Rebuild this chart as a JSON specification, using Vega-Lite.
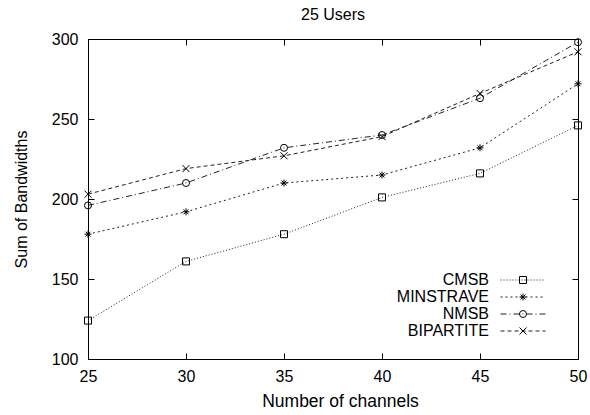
{
  "$schema": "https://vega.github.io/schema/vega-lite/v6.json",
  "width": 490,
  "height": 320,
  "padding": {"left": 88, "top": 39, "right": 12, "bottom": 56},
  "autosize": {"type": "none"},
  "background": "white",
  "title": {"text": "25 Users", "fontSize": 16, "font": "Liberation Sans", "fontWeight": "normal", "offset": 8, "anchor": "middle", "color": "#000"},
  "config": {
    "view": {"stroke": "#000", "strokeWidth": 1},
    "font": "Liberation Sans",
    "axis": {
      "domainColor": "#000", "domainWidth": 1, "tickColor": "#000", "tickWidth": 1, "tickSize": -6,
      "labelFontSize": 16, "labelColor": "#000", "labelFont": "Liberation Sans",
      "titleFontSize": 16, "titleFontWeight": "normal", "titleColor": "#000", "titleFont": "Liberation Sans",
      "grid": false, "labelFlush": false
    }
  },
  "data": {"values": [
    {"series": "CMSB", "channels": 25, "bandwidth": 124},
    {"series": "CMSB", "channels": 30, "bandwidth": 161},
    {"series": "CMSB", "channels": 35, "bandwidth": 178},
    {"series": "CMSB", "channels": 40, "bandwidth": 201},
    {"series": "CMSB", "channels": 45, "bandwidth": 216},
    {"series": "CMSB", "channels": 50, "bandwidth": 246},
    {"series": "MINSTRAVE", "channels": 25, "bandwidth": 178},
    {"series": "MINSTRAVE", "channels": 30, "bandwidth": 192},
    {"series": "MINSTRAVE", "channels": 35, "bandwidth": 210},
    {"series": "MINSTRAVE", "channels": 40, "bandwidth": 215},
    {"series": "MINSTRAVE", "channels": 45, "bandwidth": 232},
    {"series": "MINSTRAVE", "channels": 50, "bandwidth": 272},
    {"series": "NMSB", "channels": 25, "bandwidth": 196},
    {"series": "NMSB", "channels": 30, "bandwidth": 210},
    {"series": "NMSB", "channels": 35, "bandwidth": 232},
    {"series": "NMSB", "channels": 40, "bandwidth": 240},
    {"series": "NMSB", "channels": 45, "bandwidth": 263},
    {"series": "NMSB", "channels": 50, "bandwidth": 298},
    {"series": "BIPARTITE", "channels": 25, "bandwidth": 203},
    {"series": "BIPARTITE", "channels": 30, "bandwidth": 219},
    {"series": "BIPARTITE", "channels": 35, "bandwidth": 227},
    {"series": "BIPARTITE", "channels": 40, "bandwidth": 239},
    {"series": "BIPARTITE", "channels": 45, "bandwidth": 266},
    {"series": "BIPARTITE", "channels": 50, "bandwidth": 292}
  ]},
  "layer": [
    {
      "mark": {"type": "line", "strokeWidth": 1, "color": "#222"},
      "encoding": {
        "x": {"field": "channels", "type": "quantitative",
              "scale": {"domain": [25, 50], "nice": false, "zero": false},
              "axis": {"orient": "bottom", "values": [25, 30, 35, 40, 45, 50], "labelPadding": 15, "title": "Number of channels", "titlePadding": 8, "titleFontSize": 17.5, "titleX": 252}},
        "y": {"field": "bandwidth", "type": "quantitative",
              "scale": {"domain": [100, 300], "nice": false, "zero": false},
              "axis": {"orient": "left", "values": [100, 150, 200, 250, 300], "labelPadding": 16, "title": "Sum of Bandwidths", "titlePadding": 22}},
        "strokeDash": {"field": "series", "type": "nominal",
              "scale": {"domain": ["CMSB", "MINSTRAVE", "NMSB", "BIPARTITE"], "range": [[1, 2], [2, 3], [6, 3, 1, 3], [4, 3]]},
              "legend": {"orient": "none", "legendX": 427, "legendY": 233, "title": null, "padding": 0, "rowPadding": 1,
                         "labelFontSize": 16, "labelFont": "Liberation Sans", "labelColor": "#000", "labelAlign": "right", "labelOffset": -42,
                         "symbolType": "M-11.25,0L11.25,0", "symbolSize": 16, "symbolStrokeColor": "#222", "symbolStrokeWidth": 1, "symbolFillColor": "transparent"}}
      }
    },
    {
      "mark": {"type": "point", "filled": false, "size": 49, "strokeWidth": 1, "color": "#000", "opacity": 1},
      "encoding": {
        "x": {"field": "channels", "type": "quantitative",
              "axis": {"orient": "top", "values": [25, 30, 35, 40, 45, 50], "labels": false, "title": null}},
        "y": {"field": "bandwidth", "type": "quantitative",
              "axis": {"orient": "right", "values": [100, 150, 200, 250, 300], "labels": false, "title": null}},
        "shape": {"field": "series", "type": "nominal",
              "sort": ["CMSB", "MINSTRAVE", "NMSB", "BIPARTITE"],
              "scale": {"range": ["square", "M-1,0L1,0M0,-1L0,1M-0.7,-0.7L0.7,0.7M-0.7,0.7L0.7,-0.7", "circle", "M-1,-1L1,1M-1,1L1,-1"]},
              "legend": {"orient": "none", "legendX": 427, "legendY": 233, "title": null, "padding": 0, "rowPadding": 1,
                         "labelFontSize": 16, "labelFont": "Liberation Sans", "labelOpacity": 0, "labelAlign": "right", "labelOffset": -42,
                         "symbolSize": 49, "symbolStrokeColor": "#000", "symbolStrokeWidth": 1, "symbolFillColor": "transparent"}}
      }
    }
  ],
  "resolve": {"axis": {"x": "independent", "y": "independent"}}
}
